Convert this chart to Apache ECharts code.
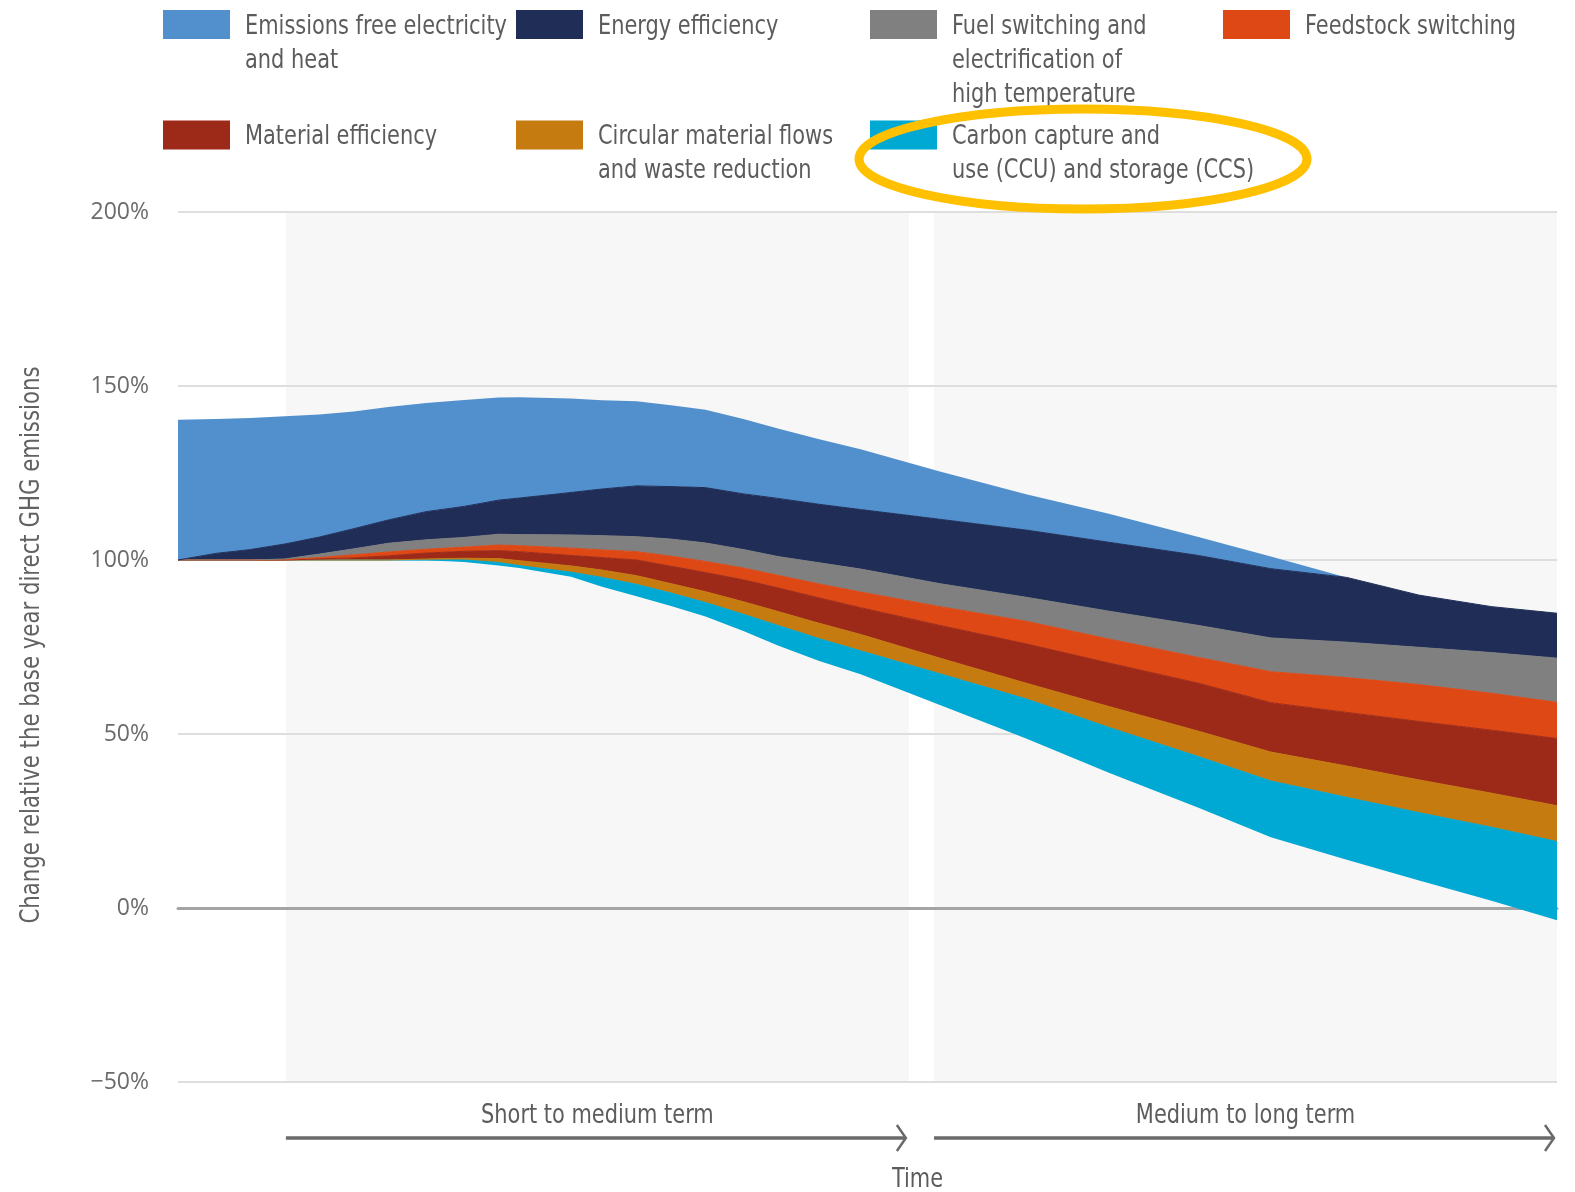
<!DOCTYPE html>
<html>
<head>
<meta charset="utf-8">
<title>Reduction wedges for direct GHG emissions</title>
<script src="https://cdn.jsdelivr.net/npm/echarts@6/dist/echarts.min.js"></script>
<style>
  html, body { margin: 0; padding: 0; background: #ffffff; }
  #chart { width: 1575px; height: 1192px; }
</style>
</head>
<body>
<div id="chart"></div>
<script>
// ---- data -------------------------------------------------------------
// Position along the (unlabelled) time axis, 0 = base year, 40 = end of horizon
const timeSteps = [0, 1.1, 2.1, 3.1, 4.1, 5.1, 6.1, 7.2, 8.3, 9.3, 9.9, 11.4, 12.3, 13.3, 14.3, 15.3,
  16.4, 17.4, 18.6, 19.8, 22.1, 24.6, 27.0, 29.6, 31.7, 33.9, 36.0, 38.1, 40];

// Boundaries between the wedges, in % of base-year direct GHG emissions (top to bottom)
const edgeBaseline    = [140.3, 140.5, 140.8, 141.3, 141.8, 142.7, 144.0, 145.1, 146.0, 146.7, 146.8, 146.4, 145.9, 145.6, 144.5, 143.2,
  140.5, 137.8, 134.7, 131.8, 125.4, 118.9, 113.3, 106.6, 101.0, 95.0, 89.9, 86.6, 84.7];
const edgeEnergyEff   = [100, 101.9, 103.0, 104.6, 106.6, 109.0, 111.5, 113.9, 115.4, 117.2, 117.8, 119.4, 120.4, 121.3, 121.1, 120.8,
  119.0, 117.7, 116.0, 114.5, 111.7, 108.6, 105.1, 101.3, 97.5, 95.0, 89.9, 86.6, 84.7];
const edgeFuelSwitch  = [100, 100, 100, 100.3, 101.7, 103.2, 104.8, 105.8, 106.5, 107.4, 107.3, 107.2, 107.0, 106.7, 106.0, 104.9,
  103.0, 101.0, 99.2, 97.4, 93.2, 89.3, 85.3, 81.2, 77.6, 76.4, 74.9, 73.4, 71.8];
const edgeFeedstock   = [100, 100, 100, 100.1, 100.7, 101.5, 102.3, 103.1, 103.7, 104.3, 104.1, 103.4, 102.9, 102.4, 101.1, 99.6,
  97.7, 95.6, 93.1, 90.8, 86.6, 82.4, 77.3, 72.0, 67.9, 66.2, 64.2, 61.7, 59.1];
const edgeMaterialEff = [100, 100, 100, 100, 100.3, 100.6, 101.2, 102.0, 102.5, 102.7, 102.4, 101.3, 100.7, 100.0, 98.2, 96.4,
  94.3, 92.0, 89.1, 86.3, 81.2, 75.9, 70.4, 64.6, 59.0, 56.2, 53.6, 51.1, 48.7];
const edgeCircular    = [100, 100, 100, 100, 100, 100, 100, 100.3, 100.5, 100.4, 99.8, 98.3, 97.1, 95.5, 93.2, 90.9,
  88.0, 85.2, 81.8, 78.6, 71.8, 64.6, 57.9, 50.8, 44.8, 40.8, 36.8, 33.0, 29.4];
const edgeCcs         = [100, 100, 100, 100, 100, 100, 100, 100, 100.0, 99.3, 98.4, 96.5, 95.0, 93.0, 90.5, 87.8,
  84.4, 81.2, 77.4, 73.9, 67.3, 60.1, 51.9, 43.5, 36.5, 31.8, 27.4, 23.2, 19.1];
const residual        = [100, 100, 100, 100, 100, 100, 100, 99.9, 99.4, 98.4, 97.7, 95.2, 92.3, 89.6, 86.8, 83.8,
  79.6, 75.4, 71.0, 67.2, 58.3, 48.7, 38.9, 28.8, 20.3, 13.9, 7.9, 2.1, -3.5];

// Measures, in legend order (top wedge first)
const measureNames = [
  'Emissions free electricity and heat',
  'Energy efficiency',
  'Fuel switching and electrification of high temperature',
  'Feedstock switching',
  'Material efficiency',
  'Circular material flows and waste reduction',
  'Carbon capture and use (CCU) and storage (CCS)'
];
const measureLabels = [
  'Emissions free electricity\nand heat',
  'Energy efficiency',
  'Fuel switching and\nelectrification of\nhigh temperature',
  'Feedstock switching',
  'Material efficiency',
  'Circular material flows\nand waste reduction',
  'Carbon capture and\nuse (CCU) and storage (CCS)'
];
const measureColors = ['#5190cd', '#1f2d57', '#808080', '#dd4814', '#9d2a19', '#c67b11', '#00a9d4'];
// upper and lower edge of each wedge, same order as the names
const wedgeUpper = [edgeBaseline, edgeEnergyEff, edgeFuelSwitch, edgeFeedstock, edgeMaterialEff, edgeCircular, edgeCcs];
const wedgeLower = [edgeEnergyEff, edgeFuelSwitch, edgeFeedstock, edgeMaterialEff, edgeCircular, edgeCcs, residual];

// Time periods shaded behind the wedges
const periodLabels = ['Short to medium term', 'Medium to long term'];
const periodSpans = [[3.13, 21.2], [21.93, 40]];

const yRange = [-50, 200];
const yStep = 50;

// ---- fonts ------------------------------------------------------------
const probe = document.createElement('canvas').getContext('2d');
function isInstalled(family) {
  const sample = 'Change relative 0123 GHG emissions';
  return ['monospace', 'serif'].some(fb => {
    probe.font = '40px ' + fb;
    const a = probe.measureText(sample).width;
    probe.font = '40px "' + family + '", ' + fb;
    const b = probe.measureText(sample).width;
    return Math.abs(a - b) > 0.5;
  });
}
const narrowFamily = ['Liberation Sans Narrow', 'DejaVu Sans Condensed', 'Roboto Condensed',
  'Open Sans Condensed', 'Noto Sans Condensed'].find(isInstalled);
const LABEL_FONT = narrowFamily ? '"' + narrowFamily + '", Roboto, sans-serif' : 'Roboto, sans-serif';
function widthAt(text, size) {
  probe.font = size + 'px ' + LABEL_FONT;
  return probe.measureText(text).width;
}
// horizontal squeeze that gives the labels their condensed proportions
function squeeze(text, size, width) {
  return Math.min(1.05, width / widthAt(text, size));
}
const LABEL_SIZE = 27;
const LINE_HEIGHT = 34;
const labelSqueeze = squeeze('Emissions free electricity', LABEL_SIZE, 262);
const titleSqueeze = squeeze('Change relative the base year direct GHG emissions', LABEL_SIZE, 557);

// ---- series -----------------------------------------------------------
// Each point is stored as [share, time] and mapped with encode, so that the
// stack accumulates the share dimension rather than the time dimension.
const series = [{
  name: 'Remaining emissions',
  type: 'line',
  stack: 'wedges',
  stackStrategy: 'all',
  encode: { x: 1, y: 0 },
  data: timeSteps.map((t, i) => [residual[i], t]),
  symbol: 'none',
  lineStyle: { width: 0 },
  silent: true,
  emphasis: { disabled: true }
}];
// stack from the bottom wedge upwards
for (let k = measureNames.length - 1; k >= 0; k--) {
  const upper = wedgeUpper[k], lower = wedgeLower[k], color = measureColors[k];
  series.push({
    name: measureNames[k],
    type: 'line',
    stack: 'wedges',
    stackStrategy: 'all',
    encode: { x: 1, y: 0 },
    data: timeSteps.map((t, i) => [+(upper[i] - lower[i]).toFixed(2), t]),
    symbol: 'none',
    color: color,
    lineStyle: { width: k === 0 ? 0 : 1, color: color },
    areaStyle: { color: color, opacity: 1 },
    silent: true,
    emphasis: { disabled: true }
  });
}

const chart = echarts.init(document.getElementById('chart'), null, { renderer: 'canvas' });

chart.setOption({
  animation: false,
  backgroundColor: '#ffffff',
  grid: { left: 178, right: 18, top: 212, bottom: 110, outerBoundsMode: 'none' },
  xAxis: {
    type: 'value',
    min: 0,
    max: 40,
    axisLine: { show: true, onZero: true, lineStyle: { color: '#a4a4a4', width: 3 } },
    axisTick: { show: false },
    axisLabel: { show: false },
    splitLine: { show: false }
  },
  yAxis: {
    type: 'value',
    min: yRange[0],
    max: yRange[1],
    interval: yStep,
    axisLine: { show: false },
    axisTick: { show: false },
    splitLine: { lineStyle: { color: '#dedede', width: 2 } },
    axisLabel: {
      margin: 29,
      color: '#6b6b6b',
      fontFamily: '"Open Sans", "DejaVu Sans", sans-serif',
      fontSize: 23,
      formatter: v => (v < 0 ? '\u2212' + (-v) : v) + '%'
    }
  },
  series: series
});

// ---- annotations placed through the axis scales -------------------------
const toPx = (t, v) => chart.convertToPixel({ gridIndex: 0 }, [t, v]);

function textEl(text, x, y, opt) {
  return {
    type: 'text',
    x: x,
    y: y,
    rotation: opt.rotation || 0,
    scaleX: opt.squeeze || labelSqueeze,
    z: 10,
    silent: true,
    style: {
      text: text,
      font: (opt.size || LABEL_SIZE) + 'px ' + LABEL_FONT,
      fill: opt.color || '#5c5c5c',
      align: opt.align || 'left',
      verticalAlign: opt.va || 'middle',
      lineHeight: LINE_HEIGHT
    }
  };
}

const graphics = [];

// shaded periods and their arrows
const arrowY = 1138;
periodSpans.forEach(([a, b], i) => {
  const tl = toPx(a, yRange[1]);
  const br = toPx(b, yRange[0]);
  graphics.push({
    type: 'rect', z: -1, silent: true,
    shape: { x: tl[0], y: tl[1], width: br[0] - tl[0], height: br[1] - tl[1] },
    style: { fill: '#f7f7f7' }
  });
  const tip = br[0] - 3;
  graphics.push({
    type: 'line', z: 10, silent: true,
    shape: { x1: tl[0], y1: arrowY, x2: tip - 1, y2: arrowY },
    style: { stroke: '#6a6a6a', lineWidth: 3.5 }
  });
  graphics.push({
    type: 'polyline', z: 10, silent: true,
    shape: { points: [[tip - 9, arrowY - 13], [tip, arrowY], [tip - 9, arrowY + 13]] },
    style: { stroke: '#6a6a6a', lineWidth: 2.5, fill: null }
  });
  graphics.push(textEl(periodLabels[i], (tl[0] + br[0]) / 2, 1115.5, { align: 'center' }));
});
const gapMid = (toPx(periodSpans[0][1], 0)[0] + toPx(periodSpans[1][0], 0)[0]) / 2;
graphics.push(textEl('Time', gapMid - 4, 1180, { align: 'center' }));

// vertical axis title
graphics.push(textEl('Change relative the base year direct GHG emissions', 32, 645, {
  align: 'center', rotation: Math.PI / 2, squeeze: titleSqueeze, color: '#626262'
}));

// legend: four columns, two rows
const legendColumnsX = [163, 516, 870, 1223];
const legendRowsY = [10, 120.5];
measureNames.forEach((name, i) => {
  const x = legendColumnsX[i % 4];
  const y = legendRowsY[Math.floor(i / 4)];
  graphics.push({
    type: 'rect', z: 10, silent: true,
    shape: { x: x, y: y, width: 67, height: 29 },
    style: { fill: measureColors[i] }
  });
  graphics.push(textEl(measureLabels[i], x + 82, y + 16.5 - LINE_HEIGHT / 2, { va: 'top' }));
});

// highlight ring around the CCU/CCS entry
const ccsX = legendColumnsX[6 % 4], ccsY = legendRowsY[1];
graphics.push({
  type: 'ellipse', z: 20, silent: true,
  shape: { cx: ccsX + 213, cy: ccsY + 38.5, rx: 224, ry: 50 },
  style: { fill: null, stroke: '#ffc000', lineWidth: 9 }
});

chart.setOption({ graphic: graphics });
</script>
</body>
</html>
